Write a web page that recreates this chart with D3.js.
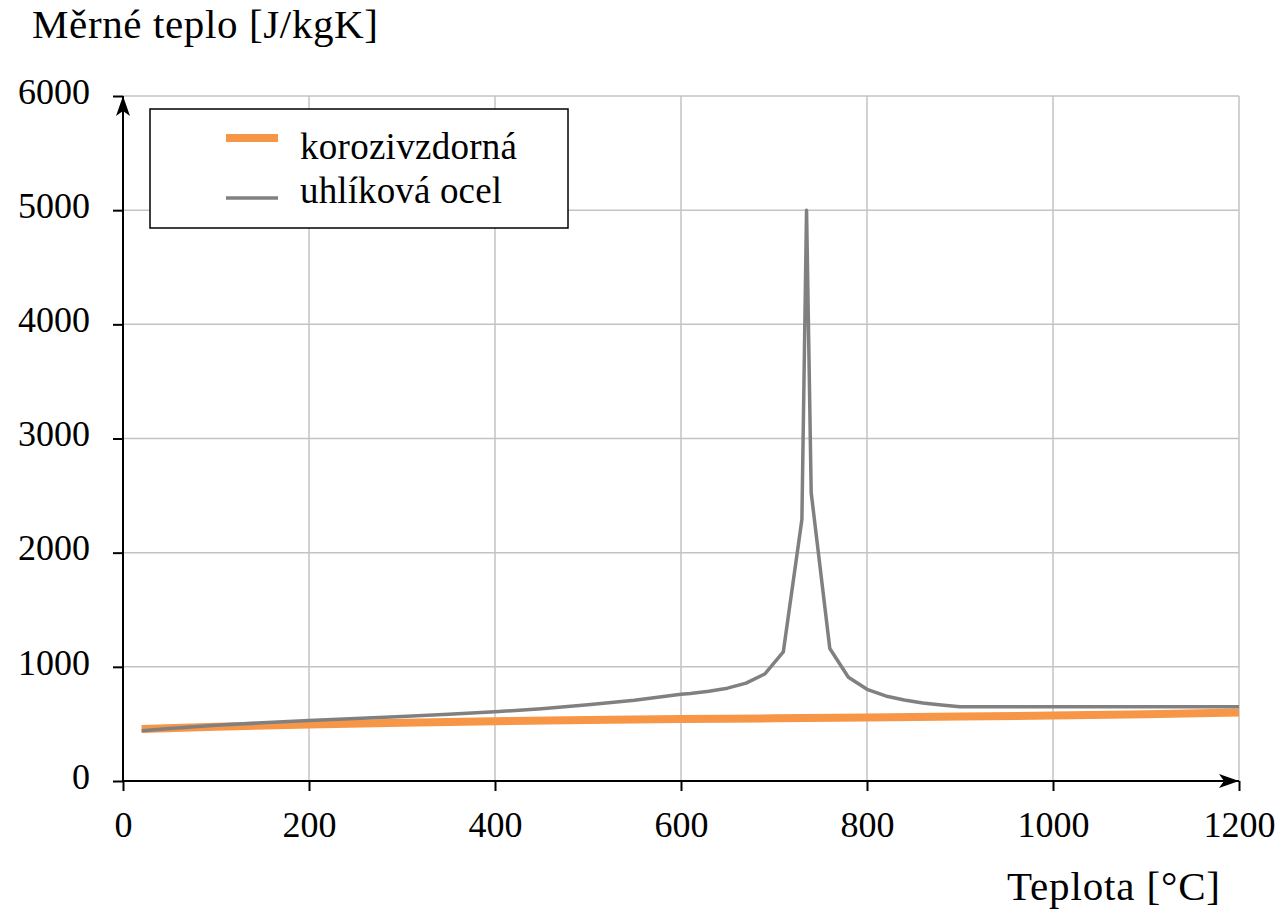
<!DOCTYPE html>
<meta charset="utf-8">
<title>Merne teplo</title>
<body style="margin:0;background:#fff">
<script src="https://d3js.org/d3.v7.min.js"></script>
<script>
// data
var steelTemp = [20, 50, 100, 150, 200, 250, 300, 350, 400, 450, 500, 550, 600, 610, 630, 650, 670, 690, 710, 730, 735, 740, 760, 780, 800, 820, 840, 860, 880, 900, 1200];
var steelHeat = [440, 460, 488, 510, 530, 547, 565, 584, 606, 633, 667, 708, 760, 767, 787, 813, 857, 937, 1130, 2291, 5000, 2525, 1160, 909, 803, 745, 709, 683, 665, 650, 650];
var stainTemp = [20, 100, 200, 300, 400, 500, 600, 700, 800, 900, 1000, 1100, 1200];
var stainHeat = [456, 475, 495, 511, 524, 534, 542, 549, 556, 564, 573, 584, 599];
var xTicks = [0, 200, 400, 600, 800, 1000, 1200];
var yTicks = [0, 1000, 2000, 3000, 4000, 5000, 6000];
var seriesNames = ["korozivzdorná", "uhlíková ocel"];

var width = 1281, height = 913;
var serif = "Liberation Serif";
var svg = d3.select("body").append("svg")
  .attr("width", width)
  .attr("height", height);

var x = d3.scaleLinear().domain([0, 1200]).range([123, 1239]);
var y = d3.scaleLinear().domain([0, 6000]).range([781, 96]);

// grid
svg.append("g").selectAll("line").data(xTicks.slice(1)).enter().append("line")
  .attr("x1", d => x(d)).attr("x2", d => x(d))
  .attr("y1", y(0)).attr("y2", y(6000))
  .style("stroke", "#c3c3c3").style("stroke-width", 1.5);
svg.append("g").selectAll("line").data(yTicks.slice(1)).enter().append("line")
  .attr("x1", x(0)).attr("x2", x(1200))
  .attr("y1", d => y(d)).attr("y2", d => y(d))
  .style("stroke", "#c3c3c3").style("stroke-width", 1.5);

// arrow marker
svg.append("defs").append("marker")
  .attr("id", "arr")
  .attr("viewBox", "0 0 20 14")
  .attr("refX", 20).attr("refY", 7)
  .attr("markerWidth", 20).attr("markerHeight", 14)
  .attr("markerUnits", "userSpaceOnUse")
  .attr("orient", "auto")
  .append("path")
  .attr("d", "M0,0 L20,7 L0,14 L5,7 Z")
  .style("fill", "#000");

// axes
var xAxis = d3.axisBottom(x).tickValues(xTicks).tickFormat(d3.format("d")).tickSize(10);
var yAxis = d3.axisLeft(y).tickValues(yTicks).tickFormat(d3.format("d")).tickSize(10).tickPadding(23);

var gx = svg.append("g").attr("transform", "translate(0," + y(0) + ")").call(xAxis);
var gy = svg.append("g").attr("transform", "translate(" + x(0) + ",0)").call(yAxis);
[gx, gy].forEach(function (g) {
  g.select(".domain").remove();
  g.selectAll(".tick line").style("stroke", "#000").style("stroke-width", 2);
  g.selectAll(".tick text")
    .style("font-family", serif).style("font-size", "36px").style("fill", "#000");
});
gx.selectAll(".tick text").attr("dy", null).attr("y", 56);
gy.selectAll(".tick text").attr("dy", "0.2em");

svg.append("line")
  .attr("x1", x(0)).attr("x2", x(1200))
  .attr("y1", y(0)).attr("y2", y(0))
  .style("stroke", "#000").style("stroke-width", 2)
  .attr("marker-end", "url(#arr)");
svg.append("line")
  .attr("x1", x(0)).attr("x2", x(0))
  .attr("y1", y(0)).attr("y2", y(6000))
  .style("stroke", "#000").style("stroke-width", 2)
  .attr("marker-end", "url(#arr)");

// lines
var line = d3.line().x(d => x(d[0])).y(d => y(d[1]));

svg.append("path")
  .datum(stainTemp.map((t, i) => [t, stainHeat[i]]))
  .attr("d", line)
  .style("fill", "none").style("stroke", "#f79646").style("stroke-width", 8);

svg.append("path")
  .datum(steelTemp.map((t, i) => [t, steelHeat[i]]))
  .attr("d", line)
  .style("fill", "none").style("stroke", "#808080").style("stroke-width", 3.5)
  .style("stroke-linejoin", "round");

// axis titles
svg.append("text").attr("x", 32).attr("y", 38)
  .attr("textLength", 346).attr("lengthAdjust", "spacing")
  .style("font-family", serif).style("font-size", "41px").text("Měrné teplo [J/kgK]");
svg.append("text").attr("x", 1007).attr("y", 900)
  .attr("textLength", 213).attr("lengthAdjust", "spacing")
  .style("font-family", serif).style("font-size", "41px").text("Teplota [°C]");

// legend
var leg = svg.append("g");
leg.append("rect")
  .attr("x", 150).attr("y", 109).attr("width", 418).attr("height", 119)
  .style("fill", "#fff").style("stroke", "#000").style("stroke-width", 1.5);
var legColors = ["#f79646", "#808080"];
var legWidths = [8, 3.5];
var legY = [138, 198];
var legTextY = [159, 203];
var legTextW = [217, 202];
seriesNames.forEach(function (name, i) {
  leg.append("line")
    .attr("x1", 226).attr("x2", 278).attr("y1", legY[i]).attr("y2", legY[i])
    .style("stroke", legColors[i]).style("stroke-width", legWidths[i]);
  leg.append("text")
    .attr("x", 300).attr("y", legTextY[i])
    .attr("textLength", legTextW[i]).attr("lengthAdjust", "spacing")
    .style("font-family", serif).style("font-size", "37px").text(name);
});
</script>
</body>
